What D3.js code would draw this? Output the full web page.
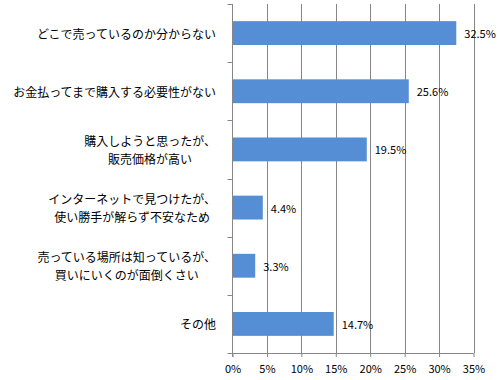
<!DOCTYPE html>
<html><head><meta charset="utf-8">
<script src="https://cdn.jsdelivr.net/npm/d3@7"></script>
<style>body{margin:0;background:#fff;} svg{display:block;}</style>
</head><body>
<svg id="c" width="500" height="380"></svg>
<script>
const categories = [
  ["どこで売っているのか分からない"],
  ["お金払ってまで購入する必要性がない"],
  ["購入しようと思ったが、","販売価格が高い"],
  ["インターネットで見つけたが、","使い勝手が解らず不安なため"],
  ["売っている場所は知っているが、","買いにいくのが面倒くさい"],
  ["その他"]
];
const values = [32.5, 25.6, 19.5, 4.4, 3.3, 14.7];
const tickValues = [0, 5, 10, 15, 20, 25, 30, 35];

(function () {
const font = "'Noto Sans CJK JP', 'Noto Sans', sans-serif";
const svg = d3.select("#c");
const mLeft = 232.5, mRight = 473.5, mTop = 4, mBottom = 353;
const x = d3.scaleLinear().domain([0, 35]).range([mLeft, mRight]);
const y = d3.scaleBand().domain(d3.range(categories.length)).range([mTop, mBottom]).padding(0);
const barH = y.bandwidth() * 0.41;
const grid = "#868686";

// gridlines
svg.append("g").selectAll("line").data(tickValues.slice(1)).join("line")
  .attr("x1", d => Math.round(x(d)) + 0.5).attr("x2", d => Math.round(x(d)) + 0.5)
  .attr("y1", mTop).attr("y2", mBottom)
  .attr("stroke", grid).attr("stroke-width", 1);

// bars
svg.append("g").selectAll("rect").data(values).join("rect")
  .attr("x", x(0)).attr("y", (d, i) => y(i) + (y.bandwidth() - barH) / 2)
  .attr("width", d => x(d) - x(0)).attr("height", barH)
  .attr("fill", "#558ed5");

// x axis
const xAxis = d3.axisBottom(x).tickValues(tickValues).tickSize(4).tickPadding(8)
  .tickFormat(d => d + "%");
const gx = svg.append("g").attr("transform", `translate(0,${mBottom})`).call(xAxis);
gx.select(".domain").attr("stroke", grid).attr("d", `M${mLeft},0.5H${mRight}`);
gx.selectAll(".tick line").attr("stroke", grid);
gx.selectAll("text").attr("font-family", font).attr("font-size", 11).attr("fill", "#000");

// y axis
const yTicks = d3.range(categories.length + 1).map(i => mTop + i * y.bandwidth());
svg.append("line").attr("x1", mLeft).attr("x2", mLeft).attr("y1", mTop).attr("y2", mBottom + 4)
  .attr("stroke", grid);
svg.append("g").selectAll("line").data(yTicks).join("line")
  .attr("x1", mLeft - 5).attr("x2", mLeft).attr("y1", d => Math.round(d) + 0.5).attr("y2", d => Math.round(d) + 0.5)
  .attr("stroke", grid);

// category labels
const labelRight = 216, lineH = 18;
categories.forEach((lines, i) => {
  const cy = y(i) + y.bandwidth() / 2;
  const g = svg.append("g");
  const texts = lines.map((t, j) => g.append("text")
    .attr("font-family", font).attr("font-size", 12).attr("fill", "#000")
    .attr("text-anchor", "middle").attr("dominant-baseline", "central")
    .attr("y", cy + (j - (lines.length - 1) / 2) * lineH).text(t));
  const maxW = d3.max(texts, t => t.node().getComputedTextLength());
  texts.forEach(t => t.attr("x", labelRight - maxW / 2));
});

// value labels
svg.append("g").selectAll("text").data(values).join("text")
  .attr("x", d => x(d) + 8).attr("y", (d, i) => y(i) + y.bandwidth() / 2)
  .attr("dominant-baseline", "central")
  .attr("font-family", font).attr("font-size", 11).attr("fill", "#000")
  .text(d => d.toFixed(1) + "%");
})();
</script>
</body></html>
